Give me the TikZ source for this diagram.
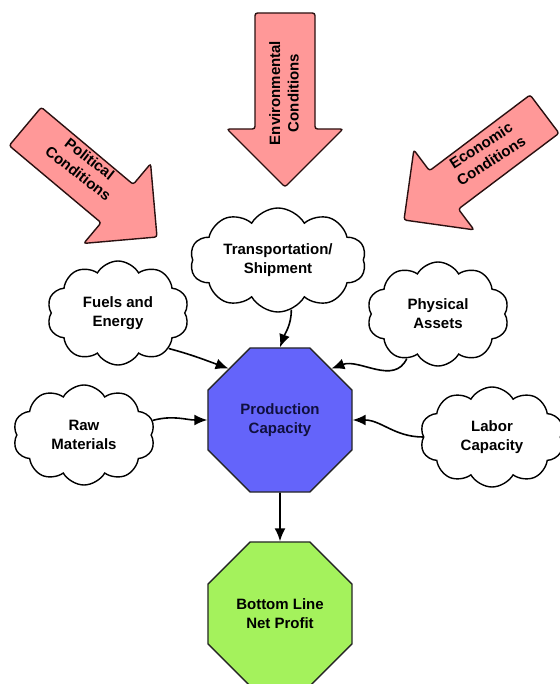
\documentclass[tikz,border=0pt]{standalone}
\usepackage{fontspec}
\setmainfont{Liberation Sans}
\usetikzlibrary{shapes.geometric,shapes.symbols,arrows.meta}
\definecolor{pinkarrow}{HTML}{FF9898}
\definecolor{arrowline}{HTML}{2A1010}
\definecolor{prodblue}{HTML}{6464FA}
\definecolor{profitgreen}{HTML}{A4F25C}
\definecolor{prodtext}{HTML}{10103E}
\tikzset{
  lbl/.style={font=\bfseries\fontsize{15}{19}\selectfont, align=center},
  arrlbl/.style={font=\bfseries\fontsize{15}{18.5}\selectfont, align=center},
  cloudbox/.style={cloud, cloud puffs=10, cloud puff arc=120, cloud ignores aspect,
    draw=black, line width=1.4pt, fill=white, lbl, inner sep=0pt},
  octo/.style={regular polygon, regular polygon sides=8, minimum size=155.9pt,
    inner sep=0pt, draw=black!85, line width=1.4pt, lbl},
  conn/.style={line width=1.6pt, -{Latex[length=13pt,width=11pt]}},
  bigarrow/.style={fill=pinkarrow, draw=arrowline, line width=1.4pt, rounded corners=2.5pt},
}
% tip x, tip y, rotation, head length (= half width), shaft half width, total length
\newcommand{\bigarr}[6]{%
  \begin{scope}[shift={(#1,#2)}, rotate=#3]
    \draw[bigarrow] (0,0) -- (-#4,#4) -- (-#4,#5) -- (-#6,#5) -- (-#6,-#5)
      -- (-#4,-#5) -- (-#4,-#4) -- cycle;
  \end{scope}}
\begin{document}
\begin{tikzpicture}[x=1pt,y=-1pt]
\useasboundingbox (0,0) rectangle (559,684);

% big pressure arrows
\bigarr{285}{187}{-90}{58}{30}{174}
\bigarr{157}{237}{-40}{52}{25}{172}
\bigarr{404}{220}{-143}{50}{24}{176}
\node[arrlbl, rotate=90] (envtext) at (284,93) {Environmental\\Conditions};
\node[arrlbl, rotate=-38] (poltext) at (84,166) {Political\\Conditions};
\node[arrlbl, rotate=33] (ecotext) at (486,153) {Economic\\Conditions};

% clouds
\node[cloudbox, minimum width=176pt, minimum height=104pt] (trans) at (278,260) {Transportation/\\Shipment};
\node[cloudbox, minimum width=142pt, minimum height=104pt] (fuel) at (118,313) {Fuels and\\Energy};
\node[cloudbox, minimum width=142pt, minimum height=104pt] (phys) at (438,314) {Physical\\Assets};
\node[cloudbox, minimum width=142pt, minimum height=100pt] (raw) at (84,435) {Raw\\Materials};
\node[cloudbox, minimum width=144pt, minimum height=100pt] (labor) at (492,437) {Labor\\Capacity};

% octagons
\node[octo, fill=prodblue, text=prodtext] (prod) at (280,420) {Production\\Capacity};
\node[octo, fill=profitgreen] (profit) at (280,614) {Bottom Line\\Net Profit};

% connectors
\draw[conn] (trans.-75) to[out=-90,in=70] (prod.north);
\draw[conn] (fuel.-35) to[out=-15,in=160] (prod.135);
\draw[conn] (phys.-125) to[out=-115,in=20] (prod.45);
\draw[conn] (raw.12) to[out=15,in=180] (prod.west);
\draw[conn] (labor.west) to[out=180,in=0] (prod.east);
\draw[conn] (prod.south) -- (profit.north);
\end{tikzpicture}
\end{document}
